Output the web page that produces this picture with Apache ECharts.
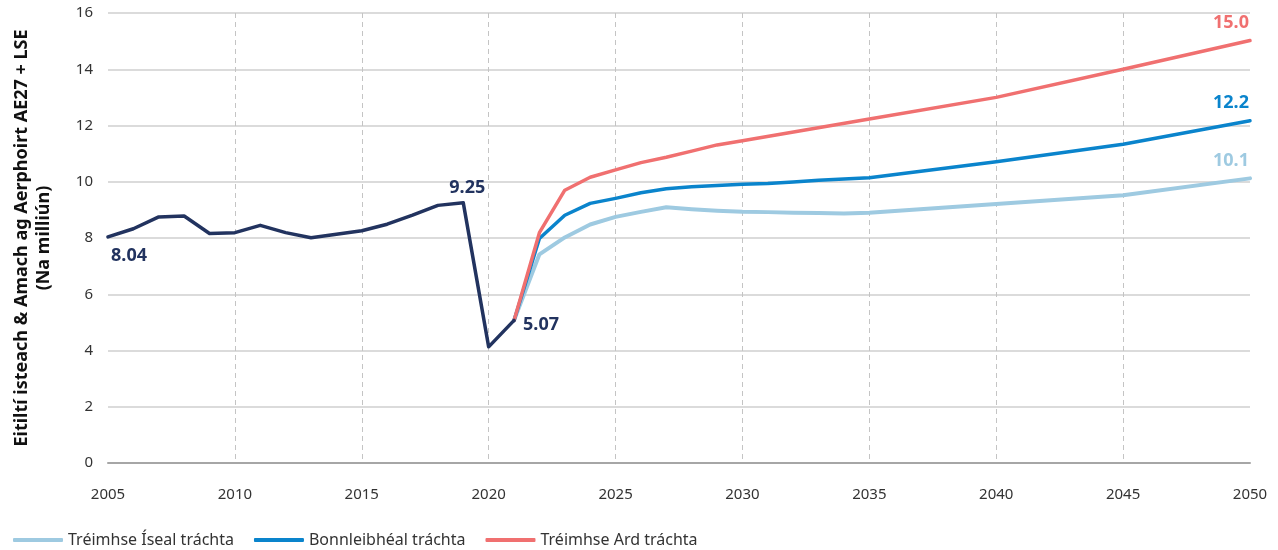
<!DOCTYPE html>
<html><head><meta charset="utf-8">
<script src="https://cdn.jsdelivr.net/npm/echarts@6/dist/echarts.min.js"></script>
<style>html,body{margin:0;padding:0;background:#fff}#c{width:1278px;height:550px}</style>
</head><body><div id="c"></div>
<script>
// Historical (actual) flights, millions
const histYears = [2005,2006,2007,2008,2009,2010,2011,2012,2013,2014,2015,2016,2017,2018,2019,2020,2021];
const histValues = [8.04,8.33,8.75,8.78,8.16,8.19,8.45,8.19,8.01,8.13,8.26,8.49,8.81,9.16,9.25,4.13,5.07];
// Projections (points where the drawn line bends)
const lowYears = [2021,2022,2023,2024,2025,2026,2027,2028,2029,2030,2031,2032,2033,2034,2035,2040,2045,2050];
const lowValues = [5.07,7.42,8.02,8.48,8.75,8.93,9.09,9.02,8.97,8.93,8.92,8.90,8.89,8.87,8.90,9.21,9.52,10.12];
const baseYears = [2021,2022,2023,2024,2025,2026,2027,2028,2029,2030,2031,2032,2033,2035,2040,2045,2050];
const baseValues = [5.07,7.98,8.81,9.23,9.41,9.61,9.75,9.82,9.87,9.91,9.94,9.99,10.05,10.14,10.71,11.33,12.17];
const highYears = [2021,2022,2023,2024,2025,2026,2027,2028,2029,2030,2035,2040,2045,2050];
const highValues = [5.07,8.19,9.70,10.16,10.42,10.68,10.87,11.09,11.31,11.46,12.23,13.00,14.00,15.02];
const seriesNames = ['Tréimhse Íseal tráchta','Bonnleibhéal tráchta','Tréimhse Ard tráchta'];
const endLabels = ['10.1','12.2','15.0'];
const startLabel = '8.04', peakLabel = '9.25', covidLabel = '5.07';

const NAVY = '#22335f', LOW = '#9ecae1', BASE = '#0a84cc', HIGH = '#f07070';
const FONT = 'Noto Sans';

function pairs(xs, ys){ return xs.map((x,i)=>[x, ys[i]]); }
function withEnd(xs, ys, txt, color){
  const d = pairs(xs, ys);
  const last = d.length-1;
  d[last] = {value: d[last], label:{show:true, position:'top', offset:[-19,-4], formatter: txt,
    color: color, fontWeight:'bold', fontSize:18, fontFamily:FONT}};
  return d;
}
const hist = pairs(histYears, histValues);
hist[0] = {value: hist[0], label:{show:true, position:'bottom', offset:[21,5], formatter:startLabel}};
hist[14] = {value: hist[14], label:{show:true, position:'top', offset:[4,-1], formatter:peakLabel}};
hist[16] = {value: hist[16], label:{show:true, position:'right', offset:[4,4], formatter:covidLabel}};

const chart = echarts.init(document.getElementById('c'), null, {renderer:'canvas'});
const lineSeries = (name, data, color, w) => ({
  name, type:'line', data, symbol:'circle', symbolSize:0, showSymbol:true, showAllSymbol:true, color,
  itemStyle:{color},
  lineStyle:{color, width:w, cap:'round', join:'round'}, z: 3
});
chart.setOption({
  animation:false,
  textStyle:{fontFamily:FONT},
  grid:{left:108, right:28, top:13, bottom:87, outerBoundsMode:'none', containLabel:false},
  legend:{
    data: seriesNames, left:8, top:527, icon:'roundRect', itemWidth:50, itemHeight:4, itemGap:20,
    textStyle:{fontSize:16, color:'#333', fontFamily:FONT}
  },
  xAxis:{
    type:'value', min:2005, max:2050, interval:5,
    axisLine:{show:true, lineStyle:{color:'#a6a6a6', width:2}},
    axisTick:{show:false},
    axisLabel:{color:'#333', fontSize:15, margin:24, formatter: v => String(v)},
    splitLine:{show:true, showMinLine:false, showMaxLine:false, lineStyle:{type:[5,4], color:'#c4c4c4', width:1}}
  },
  yAxis:{
    type:'value', min:0, max:16, interval:2,
    name:'Eitiltí isteach & Amach ag Aerphoirt AE27 + LSE\n(Na milliún)',
    nameLocation:'middle', nameGap:53, nameRotate:90,
    nameTextStyle:{fontSize:18, fontWeight:'bold', color:'#111', lineHeight:22, fontFamily:FONT},
    axisLine:{show:false}, axisTick:{show:false},
    axisLabel:{color:'#333', fontSize:15, margin:15},
    splitLine:{lineStyle:{color:'#cfcfcf', width:1.5}}
  },
  series:[
    Object.assign(lineSeries('hist', hist, NAVY, 3.5), {
      label:{color:NAVY, fontWeight:'bold', fontSize:18, fontFamily:FONT}, z:4
    }),
    lineSeries(seriesNames[0], withEnd(lowYears, lowValues, endLabels[0], LOW), LOW, 4),
    lineSeries(seriesNames[1], withEnd(baseYears, baseValues, endLabels[1], BASE), BASE, 3.5),
    lineSeries(seriesNames[2], withEnd(highYears, highValues, endLabels[2], HIGH), HIGH, 3.5)
  ]
});
</script></body></html>
